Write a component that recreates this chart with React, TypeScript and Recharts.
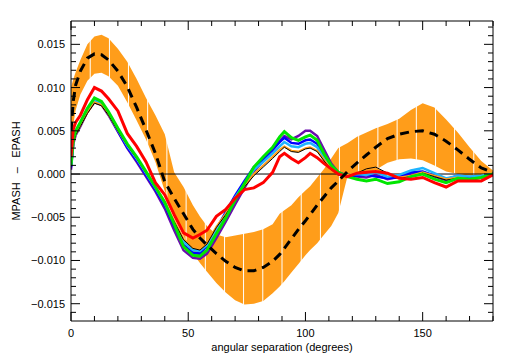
import React from 'react';
import { ComposedChart, Area, Line, XAxis, YAxis, ReferenceLine } from 'recharts';

// angular separation (degrees)
const angle = [0, 1, 2, 4, 7, 10, 13, 16, 20, 24, 28, 32, 36, 40, 44, 48, 52, 55, 58, 62, 66, 70, 74, 78, 82, 86, 89, 91, 94, 97, 100, 102, 105, 108, 111, 114, 118, 122, 126, 130, 135, 140, 145, 150, 155, 160, 165, 170, 175, 180];

// orange error band + dashed mean
const bandLow = [0.0040, 0.0058, 0.0074, 0.0092, 0.0108, 0.0116, 0.0117, 0.0113, 0.0102, 0.0083, 0.0062, 0.0040, 0.0014, -0.0020, -0.0046, -0.0072, -0.0092, -0.0103, -0.0113, -0.0126, -0.0137, -0.0146, -0.0151, -0.0150, -0.0147, -0.0138, -0.0130, -0.0124, -0.0114, -0.0104, -0.0094, -0.0088, -0.0080, -0.0070, -0.0060, -0.0045, -0.0002, -0.0002, 0.0000, 0.0005, 0.0013, 0.0017, 0.0018, 0.0016, 0.0010, 0.0003, 0.0000, -0.0002, -0.0002, 0.0000];
const bandHigh = [0.0100, 0.0110, 0.0118, 0.0132, 0.0150, 0.0159, 0.0161, 0.0157, 0.0145, 0.0130, 0.0110, 0.0088, 0.0068, 0.0046, 0.0002, -0.0015, -0.0036, -0.0049, -0.0060, -0.0070, -0.0073, -0.0071, -0.0069, -0.0067, -0.0064, -0.0058, -0.0046, -0.0042, -0.0036, -0.0027, -0.0019, -0.0014, -0.0004, 0.0006, 0.0018, 0.0030, 0.0036, 0.0043, 0.0048, 0.0053, 0.0058, 0.0064, 0.0074, 0.0082, 0.0077, 0.0063, 0.0048, 0.0031, 0.0015, 0.0004];
const meanDiff = [0.0050, 0.0085, 0.0103, 0.0119, 0.0134, 0.0139, 0.0138, 0.0132, 0.0119, 0.0101, 0.0077, 0.0051, 0.0024, -0.0009, -0.0028, -0.0046, -0.0064, -0.0074, -0.0082, -0.0092, -0.0101, -0.0108, -0.0112, -0.0112, -0.0108, -0.0101, -0.0093, -0.0086, -0.0075, -0.0064, -0.0054, -0.0047, -0.0036, -0.0026, -0.0016, -0.0008, 0.0003, 0.0013, 0.0022, 0.0031, 0.0041, 0.0046, 0.0049, 0.0050, 0.0046, 0.0038, 0.0028, 0.0017, 0.0007, 0.0002];

// individual curves
const purpleVals = [0.0005, 0.0035, 0.0045, 0.0055, 0.0072, 0.0083, 0.0080, 0.0068, 0.0049, 0.0030, 0.0014, -0.0003, -0.0020, -0.0040, -0.0065, -0.0088, -0.0097, -0.0098, -0.0092, -0.0074, -0.0055, -0.0035, -0.0016, 0.0003, 0.0015, 0.0028, 0.0038, 0.0044, 0.0040, 0.0044, 0.0050, 0.0050, 0.0044, 0.0028, 0.0012, 0.0002, -0.0002, -0.0003, -0.0004, -0.0001, -0.0006, -0.0003, 0.0000, 0.0002, -0.0003, -0.0007, -0.0003, -0.0005, -0.0003, 0.0000];
const blueVals = [0.0008, 0.0038, 0.0048, 0.0058, 0.0074, 0.0086, 0.0082, 0.0070, 0.0050, 0.0031, 0.0016, -0.0001, -0.0018, -0.0036, -0.0060, -0.0082, -0.0091, -0.0092, -0.0083, -0.0064, -0.0044, -0.0025, -0.0008, 0.0008, 0.0017, 0.0028, 0.0037, 0.0042, 0.0036, 0.0035, 0.0039, 0.0040, 0.0035, 0.0020, 0.0008, 0.0000, -0.0002, -0.0002, -0.0001, -0.0003, -0.0005, -0.0004, 0.0002, 0.0003, -0.0002, -0.0006, -0.0002, -0.0004, -0.0003, 0.0000];
const cyanVals = [0.0010, 0.0037, 0.0047, 0.0057, 0.0073, 0.0085, 0.0081, 0.0070, 0.0051, 0.0033, 0.0018, 0.0001, -0.0016, -0.0034, -0.0057, -0.0078, -0.0088, -0.0089, -0.0082, -0.0064, -0.0046, -0.0027, -0.0011, 0.0005, 0.0014, 0.0024, 0.0032, 0.0037, 0.0032, 0.0031, 0.0035, 0.0036, 0.0031, 0.0018, 0.0007, 0.0000, -0.0001, 0.0000, -0.0001, 0.0002, -0.0003, -0.0001, 0.0004, 0.0007, 0.0001, -0.0005, -0.0002, -0.0003, -0.0002, 0.0000];
const orangeVals = [0.0012, 0.0036, 0.0046, 0.0056, 0.0071, 0.0083, 0.0080, 0.0069, 0.0051, 0.0034, 0.0019, 0.0002, -0.0015, -0.0032, -0.0054, -0.0075, -0.0085, -0.0087, -0.0080, -0.0061, -0.0046, -0.0029, -0.0014, 0.0000, 0.0010, 0.0020, 0.0028, 0.0032, 0.0027, 0.0026, 0.0030, 0.0031, 0.0027, 0.0016, 0.0006, 0.0000, -0.0001, 0.0002, 0.0004, 0.0006, 0.0000, -0.0004, -0.0002, 0.0002, -0.0002, -0.0006, -0.0004, -0.0006, -0.0004, 0.0000];
const blackVals = [0.0010, 0.0035, 0.0045, 0.0055, 0.0070, 0.0082, 0.0079, 0.0068, 0.0050, 0.0033, 0.0018, 0.0001, -0.0016, -0.0033, -0.0055, -0.0076, -0.0086, -0.0088, -0.0081, -0.0062, -0.0047, -0.0030, -0.0015, -0.0002, 0.0008, 0.0018, 0.0026, 0.0031, 0.0026, 0.0025, 0.0029, 0.0030, 0.0026, 0.0015, 0.0005, -0.0001, -0.0002, 0.0001, 0.0006, 0.0008, 0.0001, -0.0005, -0.0003, 0.0001, -0.0003, -0.0007, -0.0005, -0.0007, -0.0005, 0.0000];
const greenVals = [0.0010, 0.0040, 0.0050, 0.0060, 0.0076, 0.0088, 0.0084, 0.0072, 0.0053, 0.0035, 0.0020, 0.0003, -0.0015, -0.0033, -0.0058, -0.0084, -0.0094, -0.0095, -0.0088, -0.0069, -0.0051, -0.0030, -0.0011, 0.0008, 0.0020, 0.0031, 0.0043, 0.0049, 0.0042, 0.0039, 0.0043, 0.0045, 0.0039, 0.0023, 0.0010, 0.0002, -0.0003, -0.0006, -0.0008, -0.0006, -0.0011, -0.0009, -0.0003, 0.0000, -0.0006, -0.0010, -0.0005, -0.0006, -0.0004, 0.0000];
const redVals = [0.0020, 0.0052, 0.0060, 0.0068, 0.0086, 0.0100, 0.0096, 0.0087, 0.0073, 0.0047, 0.0032, 0.0014, -0.0010, -0.0024, -0.0047, -0.0068, -0.0074, -0.0070, -0.0065, -0.0049, -0.0041, -0.0028, -0.0018, -0.0016, -0.0010, 0.0002, 0.0020, 0.0024, 0.0018, 0.0013, 0.0019, 0.0024, 0.0019, 0.0012, 0.0006, 0.0000, -0.0003, 0.0001, 0.0002, 0.0003, 0.0001, -0.0005, -0.0006, -0.0004, -0.0010, -0.0015, -0.0008, -0.0008, -0.0008, -0.0001];

// gaps in the band fill
const bandGaps = [8.2, 16.4, 24.5, 32.7, 40.9, 49.1, 57.3, 65.5, 73.6, 81.8, 90, 98.2, 106.4, 114.5, 122.7, 130.9, 139.1, 147.3, 155.5, 163.6, 171.8];

const xTicks = [0, 10, 20, 30, 40, 50, 60, 70, 80, 90, 100, 110, 120, 130, 140, 150, 160, 170, 180];
const yTicks = [-0.016, -0.015, -0.014, -0.013, -0.012, -0.011, -0.010, -0.009, -0.008, -0.007, -0.006, -0.005, -0.004, -0.003, -0.002, -0.001, 0, 0.001, 0.002, 0.003, 0.004, 0.005, 0.006, 0.007, 0.008, 0.009, 0.010, 0.011, 0.012, 0.013, 0.014, 0.015, 0.016, 0.017];

const data = angle.map((a, i) => ({
  angle: a,
  band: [bandLow[i], bandHigh[i]],
  mean: meanDiff[i],
  purple: purpleVals[i],
  blue: blueVals[i],
  cyan: cyanVals[i],
  orange: orangeVals[i],
  black: blackVals[i],
  green: greenVals[i],
  red: redVals[i],
}));

const FONT = 'Liberation Sans, Arial, sans-serif';
// tickSize + tickMargin: distance from the axis line to the tick anchor
const OFF = 8;

const isMajorY = (v: number) => Math.round(v * 1000) % 5 === 0;
const fmtY = (v: number) => (v < 0 ? '\u2212' : '') + Math.abs(v).toFixed(3);

const BottomTick = (props: any) => {
  const { x, payload } = props;
  const y = props.y - OFF;
  const major = payload.value % 50 === 0;
  return (
    <g>
      <line x1={x} y1={y} x2={x} y2={y - (major ? 9 : 5)} stroke="#000" />
      {major && (
        <text x={x} y={y + 16} textAnchor="middle" fontSize={11} fontFamily={FONT} fill="#000">
          {payload.value}
        </text>
      )}
    </g>
  );
};

const TopTick = (props: any) => {
  const { x, payload } = props;
  const y = props.y + OFF;
  const major = payload.value % 50 === 0;
  return <line x1={x} y1={y} x2={x} y2={y + (major ? 9 : 5)} stroke="#000" />;
};

const LeftTick = (props: any) => {
  const { y, payload } = props;
  const x = props.x + OFF;
  const major = isMajorY(payload.value);
  return (
    <g>
      <line x1={x} y1={y} x2={x + (major ? 9 : 5)} y2={y} stroke="#000" />
      {major && (
        <text x={x - 6} y={y + 4} textAnchor="end" fontSize={11} fontFamily={FONT} fill="#000">
          {fmtY(payload.value)}
        </text>
      )}
    </g>
  );
};

const RightTick = (props: any) => {
  const { y, payload } = props;
  const x = props.x - OFF;
  const major = isMajorY(payload.value);
  return <line x1={x} y1={y} x2={x - (major ? 9 : 5)} y2={y} stroke="#000" />;
};

const YTitle = (props: any) => {
  const vb = props.viewBox || { y: 21, height: 300 };
  const cy = vb.y + vb.height / 2;
  return (
    <text x={20} y={cy} transform={`rotate(-90 20 ${cy})`} textAnchor="middle" fontSize={11} fontFamily={FONT} fill="#000">
      {'MPASH\u00a0\u00a0\u00a0\u2013\u00a0\u00a0\u00a0EPASH'}
    </text>
  );
};

export default function App() {
  return (
    <div style={{ position: 'absolute', left: 0, top: 0, background: '#fff' }}>
      <ComposedChart width={505} height={357} data={data} margin={{ top: 0, right: 0, bottom: 0, left: 0 }}>
        <XAxis
          xAxisId="bottom"
          type="number"
          dataKey="angle"
          domain={[0, 180]}
          ticks={xTicks}
          interval={0}
          allowDataOverflow
          height={36}
          tickSize={6}
          tickMargin={2}
          tickLine={false}
          tick={<BottomTick />}
          axisLine={{ stroke: '#000' }}
          label={{ value: 'angular separation (degrees)', position: 'insideBottom', offset: 6, fontSize: 11, fontFamily: FONT, fill: '#000' }}
        />
        <XAxis
          xAxisId="top"
          orientation="top"
          type="number"
          dataKey="angle"
          domain={[0, 180]}
          ticks={xTicks}
          interval={0}
          allowDataOverflow
          height={21}
          tickSize={6}
          tickMargin={2}
          tickLine={false}
          tick={<TopTick />}
          axisLine={{ stroke: '#000' }}
        />
        <YAxis
          yAxisId="left"
          type="number"
          domain={[-0.017, 0.0177]}
          ticks={yTicks}
          interval={0}
          allowDataOverflow
          width={71}
          tickSize={6}
          tickMargin={2}
          tickLine={false}
          tick={<LeftTick />}
          axisLine={{ stroke: '#000' }}
          label={<YTitle />}
        />
        <YAxis
          yAxisId="right"
          orientation="right"
          type="number"
          domain={[-0.017, 0.0177]}
          ticks={yTicks}
          interval={0}
          allowDataOverflow
          width={12}
          tickSize={6}
          tickMargin={2}
          tickLine={false}
          tick={<RightTick />}
          axisLine={{ stroke: '#000' }}
        />
        <Area
          xAxisId="bottom"
          yAxisId="left"
          type="linear"
          dataKey="band"
          stroke="none"
          fill="#ff9d1a"
          fillOpacity={1}
          isAnimationActive={false}
          activeDot={false}
          zIndex={100}
        />
        {bandGaps.map((g) => (
          <ReferenceLine key={g} xAxisId="bottom" yAxisId="left" x={g} stroke="#fff" strokeWidth={1} zIndex={150} />
        ))}
        <ReferenceLine xAxisId="bottom" yAxisId="left" y={0} stroke="#000" strokeWidth={1} zIndex={160} />
        <Line xAxisId="bottom" yAxisId="left" type="linear" dataKey="purple" stroke="#6a0dad" strokeWidth={2.5} dot={false} activeDot={false} isAnimationActive={false} zIndex={400} />
        <Line xAxisId="bottom" yAxisId="left" type="linear" dataKey="blue" stroke="#0000ff" strokeWidth={2.5} dot={false} activeDot={false} isAnimationActive={false} zIndex={400} />
        <Line xAxisId="bottom" yAxisId="left" type="linear" dataKey="cyan" stroke="#1eb4ff" strokeWidth={2.5} dot={false} activeDot={false} isAnimationActive={false} zIndex={400} />
        <Line xAxisId="bottom" yAxisId="left" type="linear" dataKey="orange" stroke="#ff9d1a" strokeWidth={2} dot={false} activeDot={false} isAnimationActive={false} zIndex={400} />
        <Line xAxisId="bottom" yAxisId="left" type="linear" dataKey="black" stroke="#000" strokeWidth={1} dot={false} activeDot={false} isAnimationActive={false} zIndex={400} />
        <Line xAxisId="bottom" yAxisId="left" type="linear" dataKey="green" stroke="#00e600" strokeWidth={3} dot={false} activeDot={false} isAnimationActive={false} zIndex={400} />
        <Line xAxisId="bottom" yAxisId="left" type="linear" dataKey="red" stroke="#ff0000" strokeWidth={3} dot={false} activeDot={false} isAnimationActive={false} zIndex={400} />
        <Line xAxisId="bottom" yAxisId="left" type="linear" dataKey="mean" stroke="#000" strokeWidth={3} strokeDasharray="9 6" dot={false} activeDot={false} isAnimationActive={false} zIndex={400} />
      </ComposedChart>
    </div>
  );
}
